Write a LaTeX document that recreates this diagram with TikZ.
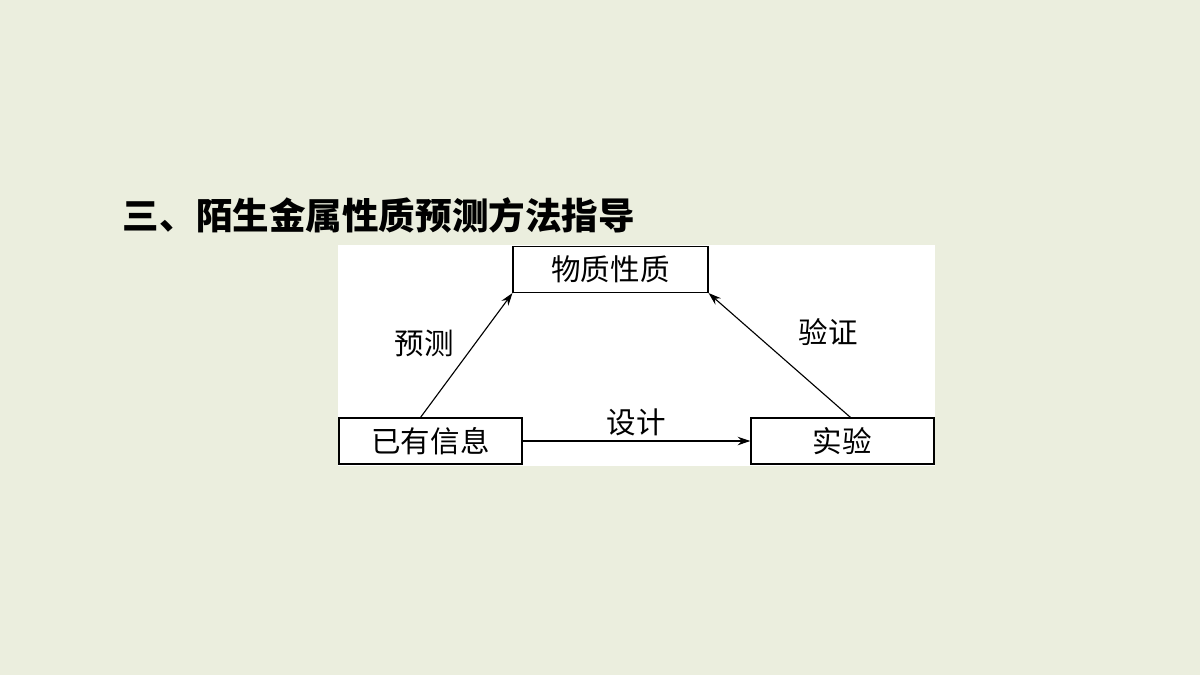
\documentclass[tikz,border=0pt]{standalone}
\usepackage{fontspec}
\newfontfamily\cjk{Noto Sans CJK SC}
\usetikzlibrary{positioning,arrows.meta}
\definecolor{bgcol}{HTML}{EBEEDE}
\begin{document}
\begin{tikzpicture}[
	x=0.025cm, y=-0.025cm,
	box/.style={draw, thick, minimum width=183*0.025cm, minimum height=46*0.025cm, font=\cjk\fontsize{21}{23}\selectfont},
	lbl/.style={font=\cjk\fontsize{21}{23}\selectfont},
	pile/.style={thick, -{Stealth[length=9pt, width=6pt]}}
	]
	% background and panel
	\fill[bgcol] (0,0) rectangle (1200,675);
	\fill[white] (338,245) rectangle (935,466);
	\node[anchor=west, font=\cjk\bfseries\fontsize{26}{28}\selectfont] (title) at (118,215) {三、陌生金属性质预测方法指导};
	% boxes
	\node[box, minimum width=195*0.025cm] (prop) at (610.5,269.5) {物质性质};
	\node[box] (info) at (430.5,441) {已有信息};
	\node[box] (expt) at (842.5,441) {实验};
	% arrows
	\draw[pile] (info.north) ++(-10,0) coordinate (a) -- (prop.south west);
	\draw[pile] (info.east) -- (expt.west) node[midway, above, lbl] {设计};
	\draw[pile] (expt.north) ++(8,0) coordinate (b) -- (prop.south east);
	\node[lbl] (pred) at (424,343) {预测};
	\node[lbl] (veri) at (828,332) {验证};
\end{tikzpicture}
\end{document}
